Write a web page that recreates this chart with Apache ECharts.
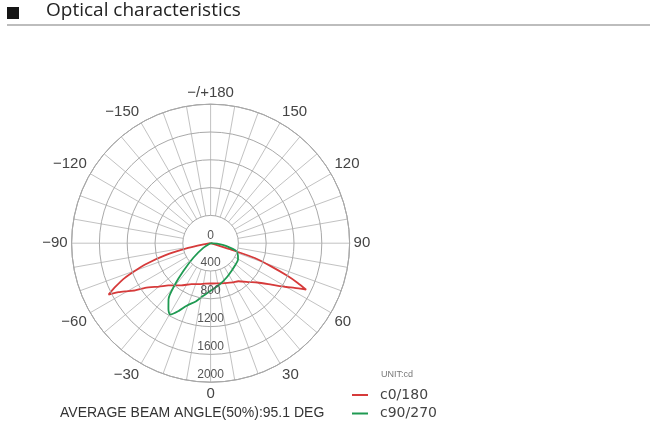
<!DOCTYPE html>
<html>
<head>
<meta charset="utf-8">
<script src="https://cdn.jsdelivr.net/npm/echarts@6/dist/echarts.min.js"></script>
<style>
html,body{margin:0;padding:0;background:#fff;}
#chart{width:650px;height:423px;}
</style>
</head>
<body>
<div id="chart"></div>
<script>
// ---- data (angle in degrees, 0 = nadir; intensity in cd) ----
const seriesNames = ['c0/180', 'c90/270'];
const redAngles = [-90, -80, -78, -75, -72, -70, -68, -65.5, -63.3, -62, -60.6, -58, -55.7, -50, -45, -42.8, -35, -25, -15, -8, 0, 8, 20, 30, 36, 45, 50, 55.7, 60, 62, 64.1, 65.5, 67, 69, 71.5, 72.5, 73, 74, 90];
const redValues = [0, 120, 330, 680, 990, 1150, 1330, 1500, 1643, 1500, 1410, 1280, 1141, 970, 860, 826, 740, 650, 610, 588, 580, 585, 610, 650, 677, 790, 880, 1058, 1260, 1367, 1528, 1378, 1200, 940, 670, 320, 120, 0, 0];
const greenAngles = [-60, -57.6, -49.8, -44.4, -40.8, -36.9, -32.6, -29.5, -25, -20.9, -14, -7.9, 0, 12.7, 25, 36.9, 48, 59.3, 66, 72.9, 79.4, 84.7, 88];
const greenValues = [0, 125, 325, 560, 781, 1008, 1126, 1181, 1070, 963, 860, 764, 685, 606, 545, 500, 475, 459, 430, 389, 233, 109, 0];
const radiusTicks = [0, 400, 800, 1200, 1600, 2000];
const angleLabelStep = 30;
const chartTitle = 'Optical characteristics';
const beamText = 'AVERAGE BEAM ANGLE(50%):95.1 DEG';
const unitText = 'UNIT:cd';

// ---- layout / style ----
const CX = 210.6, CY = 243.2, R = 139;
const colors = ['#d63a3a', '#1f9a52'];

function toPairs(angles, values) {
  return angles.map((a, i) => [values[i], (a + 360) % 360]);
}

const chart = echarts.init(document.getElementById('chart'), null, {renderer: 'canvas'});
const rMax = radiusTicks[radiusTicks.length - 1];
const rStep = radiusTicks[1] - radiusTicks[0];

chart.setOption({
  animation: false,
  backgroundColor: '#fff',
  polar: { center: [CX, CY], radius: R },
  angleAxis: {
    type: 'value', min: 0, max: 360, interval: 10,
    startAngle: 270, clockwise: false, z: 0,
    axisLine: { lineStyle: { color: '#9a9a9a', width: 1 } },
    axisTick: { show: false },
    splitLine: { lineStyle: { color: '#c2c2c2', width: 1 } },
    axisLabel: {
      margin: 4, fontSize: 15, color: '#444', fontFamily: 'Liberation Sans',
      formatter: function (v) {
        if (v % angleLabelStep !== 0 || v === 360) return '';
        if (v === 180) return '\u2212/+180';
        if (v > 180) return '\u2212' + (360 - v);
        return String(v);
      }
    }
  },
  radiusAxis: {
    type: 'value', min: 0, max: rMax, interval: rStep, z: 3,
    axisLine: { show: false },
    axisTick: { show: false },
    splitLine: { lineStyle: { color: '#a9a9a9', width: 1 } },
    axisLabel: {
      fontSize: 12, color: '#555', fontFamily: 'Liberation Sans',
      align: 'center', verticalAlign: 'bottom', margin: 0,
      padding: [0, 0, 2, 0],
      formatter: function (v) { return String(v); }
    }
  },
  legend: {
    data: seriesNames,
    orient: 'vertical', left: 352, top: 388, padding: 0,
    icon: 'rect', itemWidth: 16, itemHeight: 2, itemGap: 4.5,
    textStyle: { fontSize: 14, color: '#444', fontFamily: 'DejaVu Sans', lineHeight: 14, padding: [0, 0, 0, 7] }
  },
  graphic: [
    { type: 'rect', shape: { x: 7, y: 7, width: 12, height: 12 }, style: { fill: '#151515' } },
    { type: 'text', left: 46, top: 1, style: { text: chartTitle, font: '19px "Open Sans"', fill: '#222' } },
    { type: 'line', shape: { x1: 7, y1: 25, x2: 650, y2: 25 }, style: { stroke: '#bdbdbd', lineWidth: 2 } },
    { type: 'circle', z: 1, shape: { cx: CX, cy: CY, r: R * rStep / rMax }, style: { fill: '#fff' } },
    { type: 'text', left: 60, top: 406, style: { text: beamText, font: '14px "Liberation Sans"', fill: '#333' } },
    { type: 'text', left: 381, top: 370, style: { text: unitText, font: '9px "Liberation Sans"', fill: '#777' } }
  ],
  series: [
    {
      name: seriesNames[0], type: 'line', coordinateSystem: 'polar', z: 2,
      data: toPairs(redAngles, redValues), symbol: 'none', smooth: 0.2,
      lineStyle: { color: colors[0], width: 1.8 }, itemStyle: { color: colors[0] }
    },
    {
      name: seriesNames[1], type: 'line', coordinateSystem: 'polar', z: 2,
      data: toPairs(greenAngles, greenValues), symbol: 'none', smooth: 0.25,
      lineStyle: { color: colors[1], width: 1.8 }, itemStyle: { color: colors[1] }
    }
  ]
});
</script>
</body>
</html>
